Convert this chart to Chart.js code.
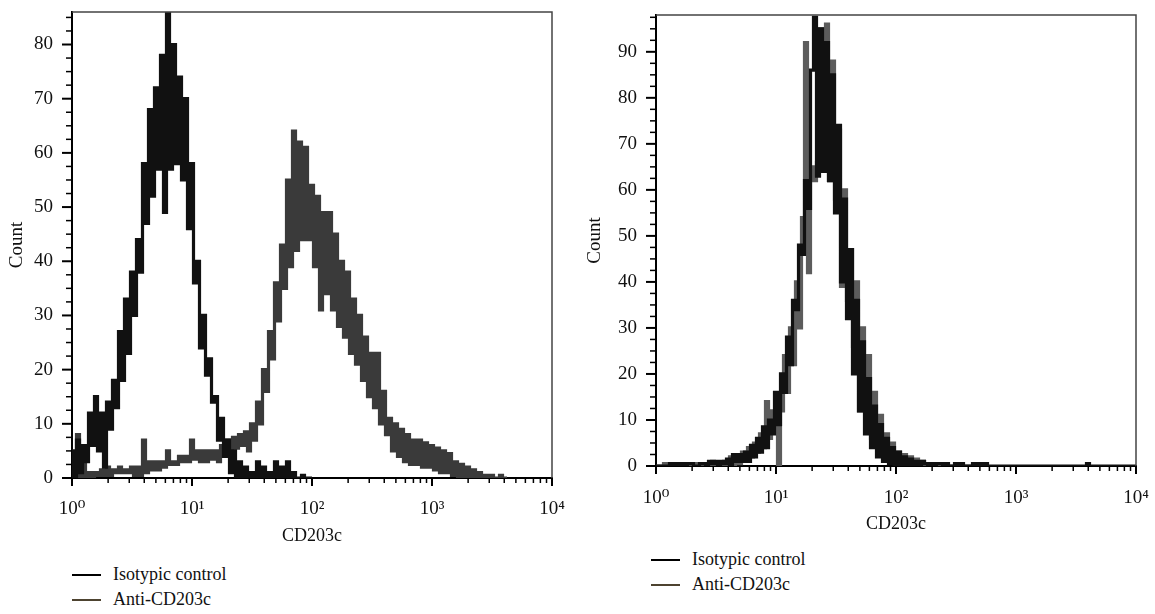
<!DOCTYPE html>
<html>
<head>
<meta charset="utf-8">
<title>CD203c histograms</title>
<script src="https://cdn.jsdelivr.net/npm/chart.js@4.4.1/dist/chart.umd.min.js"></script>
<style>
  body { margin: 0; background: #fff; font-family: 'Liberation Serif', 'DejaVu Serif', serif; }
  #page { position: relative; width: 1155px; height: 614px; overflow: hidden; }
  canvas { position: absolute; top: 0; }
  .legend { position: absolute; font-size: 18px; color: #111; }
  .legend div { height: 25px; display: flex; align-items: center; white-space: nowrap; }
  .legend .swatch { display: inline-block; width: 29px; height: 2px; margin-right: 12px; }
</style>
</head>
<body>
<div id="page">
  <canvas id="leftChart" width="570" height="553" style="left:0px"></canvas>
  <canvas id="rightChart" width="570" height="541" style="left:584px"></canvas>
  <div class="legend" id="leftLegend" style="left:72px; top:562px"></div>
  <div class="legend" id="rightLegend" style="left:651px; top:547px"></div>
</div>
<script>
// x axis: 4 decades, 40 channels per decade
const decadeValues = [1, 10, 100, 1000, 10000];
const decadeLabels = ['10⁰', '10¹', '10²', '10³', '10⁴'];
const minorMultipliers = [2, 3, 4, 5, 6, 7, 8, 9];
const channelsPerDecade = 40;

const leftCountLabels = [0, 10, 20, 30, 40, 50, 60, 70, 80];
const rightCountLabels = [0, 10, 20, 30, 40, 50, 60, 70, 80, 90];
const countMinorStep = 2.5;

const seriesNames = ['Isotypic control', 'Anti-CD203c'];
const legendColors = ['#000000', '#4d4330'];

// left panel, counts per channel
const leftIsotypic = [
  5, 0, 7, 1, 6, 3, 12, 6, 15, 5,
  12, 2, 14, 9, 18, 13, 27, 18, 33, 23,
  38, 30, 44, 38, 58, 47, 68, 52, 72, 57,
  78, 49, 86, 57, 80, 58, 74, 55, 70, 46,
  58, 36, 40, 24, 30, 19, 22, 14, 15, 7,
  11, 4, 7, 1, 5, 0, 3, 0, 2, 0,
  1, 0, 3, 0, 2, 0, 1, 0, 3, 0,
  2, 0, 3, 0, 1, 0, 0, 0.5, 0, 0, 0
];
const leftAnti = [
  1, 0, 8, 0, 6, 0, 1, 0, 1, 0.5,
  1.5, 0.5, 2, 0.5, 1.5, 1, 2, 1, 1.5, 1,
  2, 0.5, 2, 0.5, 7, 1, 3, 1.5, 3, 1.5,
  3, 2, 5, 2.5, 3, 2.5, 4, 3, 4, 3,
  7, 3.5, 5, 3, 5, 3, 5, 3.5, 5, 3,
  6, 4, 7, 5, 7.5, 5.5, 8, 6, 8.5, 5,
  10, 7, 14, 10, 20, 16, 27, 22, 36, 29,
  43, 35, 55, 39, 64, 42, 62, 44, 61, 44,
  54, 39, 52, 31, 49, 34, 49, 31, 45, 28,
  40, 26, 38, 23, 33, 21, 30, 18, 26, 15,
  23, 13, 23, 10, 16, 8, 11, 5, 10, 4,
  9, 3, 8, 2.5, 7, 2.5, 7, 2, 6.5, 2,
  6, 1.5, 5.5, 1, 5, 1, 4.5, 0.5, 3, 0,
  2.5, 0, 2, 0, 1.5, 0, 1, 0, 0.5, 0,
  0.5, 0, 0, 0.5, 0, 0
];

// right panel
const rightIsotypic = [
  0, 0, 0, 0, 0, 0.5, 0, 0.5, 0, 0.5,
  0, 0.5, 0.5, 0, 0, 0.5, 0.5, 0, 1, 0.5,
  1, 0, 1, 0.5, 1.5, 0, 2.5, 1, 2.5, 1,
  3, 1, 4.5, 2, 6, 3, 8.5, 4, 10, 7,
  16, 9, 20, 16, 28, 22, 36, 34, 48, 46,
  62, 56, 86, 97.5, 63, 95, 64, 92, 62, 85,
  55, 74, 40, 58, 32, 47, 20, 36, 12, 27,
  7, 19, 4, 13, 2, 9, 1, 6, 0.5, 4,
  0, 3, 0, 2, 0, 1.5, 0, 1, 0, 1,
  0.5, 0, 0.5, 0, 0.5, 0.5, 0, 0.5, 0, 0,
  0.5, 0, 0.5, 0, 0, 0, 0.5, 0, 0.5, 0,
  0.5, 0, 0, 0, 0, 0, 0, 0, 0, 0,
  0, 0, 0, 0, 0, 0, 0, 0, 0, 0,
  0, 0, 0, 0, 0, 0, 0, 0, 0, 0,
  0, 0, 0, 0, 0.5, 0, 0, 0, 0, 0,
  0, 0, 0, 0, 0, 0, 0, 0, 0, 0, 0
];
const rightAnti = [
  0, 0, 0, 0.5, 0, 0, 0, 0, 0.5, 0,
  0, 0, 0, 0.5, 0, 0, 0, 0.5, 0, 1,
  0, 0.5, 0, 1, 0, 2, 0, 2, 0.5, 3,
  1, 4, 2, 5, 3, 7, 4, 14, 6, 12,
  9, 0, 12, 24, 16, 30, 22, 40, 30, 54,
  92, 42, 65, 62, 66, 95, 64, 96, 62, 88,
  58, 73, 39, 60, 36, 47, 26, 40, 12, 30,
  12, 24, 6, 16, 4, 11, 2, 7, 1, 5,
  0, 3, 0, 2.5, 0, 2, 0, 1.5, 0, 1,
  0, 0.5, 0, 0, 0.5, 0, 0, 0, 0, 0,
  0, 0, 0, 0, 0, 0, 0, 0, 0, 0, 0
];

const fontFamily = "'Liberation Serif', 'DejaVu Serif', serif";
const textColor = '#111111';

function channelPoints(counts) {
  return counts.map((c, ch) => ({ x: Math.pow(10, ch / channelsPerDecade), y: c }));
}

function logTicks() {
  const ticks = [];
  decadeValues.forEach((d, k) => {
    ticks.push({ value: d, major: true });
    if (k < decadeValues.length - 1) {
      minorMultipliers.forEach(m => ticks.push({ value: d * m, major: false }));
    }
  });
  return ticks;
}

function countTicks(labels, max) {
  const ticks = [];
  for (let v = 0; v <= max; v += countMinorStep) {
    ticks.push({ value: v, major: labels.includes(v) });
  }
  return ticks;
}

function noPadding(s) {
  s.paddingLeft = 0;
  s.paddingRight = 0;
  s.paddingTop = 0;
  s.paddingBottom = 0;
}

// tick marks of two lengths plus the thin top/right frame
const tickMarks = {
  id: 'tickMarks',
  afterDraw(chart) {
    const { ctx, chartArea: area, scales } = chart;
    ctx.save();
    ctx.strokeStyle = '#000';
    scales.x.ticks.forEach(t => {
      const px = scales.x.getPixelForValue(t.value);
      ctx.lineWidth = t.major ? 2 : 1.5;
      ctx.beginPath();
      ctx.moveTo(px, area.bottom);
      ctx.lineTo(px, area.bottom + (t.major ? 8 : 5));
      ctx.stroke();
    });
    scales.y.ticks.forEach(t => {
      const py = scales.y.getPixelForValue(t.value);
      ctx.lineWidth = t.major ? 2 : 1.5;
      ctx.beginPath();
      ctx.moveTo(area.left - (t.major ? 10 : 6), py);
      ctx.lineTo(area.left, py);
      ctx.stroke();
    });
    ctx.strokeStyle = '#444';
    ctx.lineWidth = 1.5;
    ctx.beginPath();
    ctx.moveTo(area.left, area.top);
    ctx.lineTo(area.right, area.top);
    ctx.lineTo(area.right, area.bottom);
    ctx.stroke();
    ctx.restore();
  }
};

function histogram(id, cfg) {
  const font = { family: fontFamily, size: 19 };
  return new Chart(document.getElementById(id), {
    type: 'line',
    data: {
      datasets: [
        { label: seriesNames[0], data: channelPoints(cfg.iso), borderColor: '#111111', borderWidth: 3.2,
          stepped: 'middle', pointRadius: 0, fill: false },
        { label: seriesNames[1], data: channelPoints(cfg.anti), borderColor: cfg.antiColor, borderWidth: 3.2,
          stepped: 'middle', pointRadius: 0, fill: false }
      ]
    },
    options: {
      responsive: false,
      animation: false,
      layout: { padding: { top: cfg.padTop, right: 18, left: 0, bottom: 0 } },
      plugins: { legend: { display: false }, tooltip: { enabled: false } },
      scales: {
        x: {
          type: 'logarithmic',
          min: 1,
          max: 10000,
          afterBuildTicks: s => { s.ticks = logTicks(); },
          afterFit: s => { s.height = 75; noPadding(s); },
          grid: { display: false, drawTicks: false },
          border: { display: true, color: '#000', width: 2 },
          ticks: {
            autoSkip: false, maxRotation: 0, minRotation: 0,
            padding: cfg.xTickPad, color: textColor, font,
            callback: v => {
              const k = decadeValues.indexOf(v);
              return k >= 0 ? decadeLabels[k] : '';
            }
          },
          title: { display: true, text: 'CD203c', color: textColor, font: { family: fontFamily, size: 18 },
                   padding: { top: 0, bottom: 6 } }
        },
        y: {
          type: 'linear',
          min: 0,
          max: cfg.yMax,
          afterBuildTicks: s => { s.ticks = countTicks(cfg.yLabels, cfg.yMax); },
          afterFit: s => { s.width = 72; noPadding(s); },
          grid: { display: false, drawTicks: false },
          border: { display: true, color: '#000', width: 2 },
          ticks: {
            autoSkip: false, padding: 19, color: textColor, font,
            callback: v => (cfg.yLabels.includes(v) ? String(v) : '')
          },
          title: { display: true, text: 'Count', color: textColor, font: { family: fontFamily, size: 19 },
                   padding: { top: cfg.yTitlePad, bottom: 0 } }
        }
      }
    },
    plugins: [tickMarks]
  });
}

function legend(id) {
  const box = document.getElementById(id);
  seriesNames.forEach((name, k) => {
    const row = document.createElement('div');
    const sw = document.createElement('span');
    sw.className = 'swatch';
    sw.style.background = legendColors[k];
    row.appendChild(sw);
    row.appendChild(document.createTextNode(name));
    box.appendChild(row);
  });
}

histogram('leftChart', {
  iso: leftIsotypic, anti: leftAnti, antiColor: '#3a3a3a',
  yMax: 86, yLabels: leftCountLabels, padTop: 12, xTickPad: 20, yTitlePad: 6
});
histogram('rightChart', {
  iso: rightIsotypic, anti: rightAnti, antiColor: '#5c5c5c',
  yMax: 98, yLabels: rightCountLabels, padTop: 15, xTickPad: 21, yTitlePad: 0
});
legend('leftLegend');
legend('rightLegend');
</script>
</body>
</html>
